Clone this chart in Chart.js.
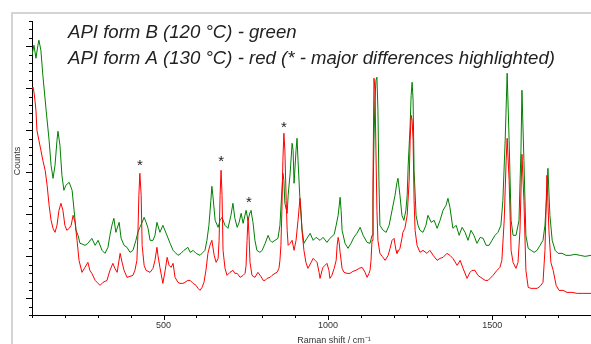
<!DOCTYPE html>
<html><head><meta charset="utf-8">
<script src="https://cdn.jsdelivr.net/npm/chart.js@4.4.1/dist/chart.umd.min.js"></script>
<style>
html,body{margin:0;padding:0;background:#fff;overflow:hidden;width:591px;height:344px;}
#frame{position:absolute;left:11px;top:12px;width:620px;height:400px;border-top:2px solid #d4d4d4;border-left:2px solid #d4d4d4;}
#wrap{position:absolute;left:0;top:0;width:591px;height:344px;}
</style></head>
<body>
<div id="frame"></div>
<div id="wrap"><canvas id="c"></canvas></div>
<script>
const titleLines = ['API form B (120 \u00B0C) - green', 'API form A (130 \u00B0C) - red (* - major differences highlighted)'];
const xTitle = 'Raman shift / cm\u207B\u00B9';
const yTitle = 'Counts';
const xTickLabels = [500, 1000, 1500];

const greenWavenumber = [
 100,106,112,118,121,127,133,143,152,158,
 164,170,176,179,185,191,197,203,213,222,
 228,234,240,246,255,261,270,282,292,301,
 313,322,331,337,343,349,355,365,371,380,
 389,398,407,416,422,428,435,441,447,453,
 459,468,474,480,489,498,508,520,529,535,
 544,553,562,574,581,590,599,611,620,626,
 632,638,644,647,650,657,666,672,678,687,
 696,705,711,717,724,730,736,742,751,757,
 763,766,772,778,784,793,800,809,818,824,
 830,839,848,854,860,863,866,869,876,879,
 885,891,894,897,903,906,909,915,921,927,
 936,946,955,964,976,985,997,1006,1019,1025,
 1031,1037,1040,1043,1052,1061,1070,1079,1088,1098,
 1107,1119,1128,1134,1137,1140,1143,1146,1149,1152,
 1155,1158,1168,1177,1186,1195,1204,1210,1213,1219,
 1225,1231,1237,1241,1244,1250,1253,1256,1259,1262,
 1268,1274,1280,1289,1298,1304,1314,1323,1332,1341,
 1350,1359,1365,1371,1380,1390,1399,1408,1417,1426,
 1435,1444,1453,1463,1472,1481,1490,1499,1508,1517,
 1526,1532,1539,1545,1551,1557,1563,1572,1581,1587,
 1590,1596,1602,1609,1618,1627,1636,1645,1654,1660,
 1666,1669,1675,1682,1691,1700,1712,1724,1736,1751,
 1767,1782,1800];
const greenCounts = [
 243,253,240,253,258,248,223,188,158,133,
 120,133,158,167,153,123,108,113,116,108,
 88,68,63,55,54,53,55,60,53,58,
 48,45,51,63,73,80,66,76,60,53,
 51,46,48,58,66,71,76,81,76,70,
 58,58,63,76,66,73,65,55,48,46,
 43,45,48,51,46,48,45,43,46,48,
 58,73,98,112,103,78,71,78,81,73,
 70,83,95,80,71,76,85,75,88,78,
 86,88,76,58,48,46,48,55,63,58,
 56,58,60,73,108,125,118,95,85,103,
 125,155,148,115,148,160,138,98,70,55,
 60,65,58,61,58,61,56,60,64,73,
 83,101,88,68,55,50,55,61,65,71,
 63,56,55,63,98,158,198,218,221,188,
 118,73,68,66,73,88,103,116,120,103,
 83,78,88,103,133,173,203,216,198,128,
 83,73,68,66,73,83,76,78,70,78,
 88,93,100,91,70,73,63,71,66,58,
 68,63,55,61,60,53,53,58,63,66,
 73,98,158,225,158,78,63,63,78,148,
 208,138,63,50,48,46,48,53,58,73,
 108,130,83,58,48,45,45,43,43,44,
 43,42,43];

const redWavenumber = [
 100,103,106,109,112,115,121,127,133,140,
 146,152,158,164,170,176,182,188,194,200,
 206,213,219,225,231,237,243,252,261,270,
 276,282,292,298,307,316,328,337,346,352,
 359,368,374,380,389,398,407,413,419,422,
 425,428,432,435,441,447,459,468,474,480,
 483,489,498,505,511,517,523,529,535,544,
 550,559,565,574,581,590,599,605,611,617,
 623,629,635,641,647,654,660,666,669,672,
 675,678,681,687,693,702,711,717,724,733,
 742,748,751,754,757,760,763,769,778,787,
 796,803,809,815,824,830,839,845,851,854,
 857,860,863,866,869,873,876,879,885,891,
 897,903,909,915,918,921,927,933,939,949,
 955,961,967,973,976,982,985,991,997,1003,
 1006,1012,1019,1025,1028,1031,1034,1037,1043,1049,
 1058,1067,1076,1085,1095,1104,1113,1119,1125,1128,
 1131,1134,1137,1140,1143,1146,1149,1152,1158,1165,
 1174,1183,1189,1195,1201,1207,1210,1219,1225,1228,
 1234,1241,1247,1250,1253,1256,1259,1262,1265,1271,
 1280,1289,1301,1310,1320,1332,1341,1350,1362,1371,
 1380,1393,1402,1411,1423,1432,1438,1447,1456,1469,
 1478,1487,1493,1502,1514,1523,1529,1536,1542,1545,
 1551,1557,1563,1572,1578,1584,1590,1596,1602,1609,
 1618,1627,1636,1645,1654,1660,1666,1672,1678,1685,
 1694,1703,1715,1727,1742,1758,1773,1788,1800];
const redCounts = [
 210,211,206,198,188,168,158,148,138,128,
 113,93,78,70,66,73,88,95,88,73,
 68,70,73,83,76,58,38,26,31,36,
 28,25,18,16,13,16,18,28,35,30,
 26,45,36,28,21,22,23,28,38,63,
 103,125,103,53,33,28,26,30,38,51,
 43,31,15,28,41,33,31,35,21,16,
 15,15,16,18,18,15,13,10,8,11,
 16,28,45,53,58,43,36,40,58,103,
 128,103,48,30,23,26,28,25,25,21,
 23,25,33,58,81,63,36,23,21,26,
 22,18,18,20,21,23,25,26,30,38,
 53,88,138,165,148,98,68,53,55,58,
 48,58,78,100,88,68,48,36,30,36,
 40,38,36,26,20,28,31,33,35,28,
 20,23,30,38,53,61,56,46,30,26,
 25,25,27,28,30,31,26,21,25,28,
 38,58,118,220,208,148,88,58,45,42,
 38,43,50,58,60,48,45,50,60,66,
 70,83,118,158,183,178,158,98,68,53,
 46,48,45,48,43,38,40,41,45,43,
 40,33,38,30,20,26,28,28,23,20,
 18,18,20,23,28,31,38,78,138,160,
 118,48,36,30,36,68,144,98,28,11,
 10,10,10,12,16,48,123,68,36,28,
 13,8,8,6,6,5,5,5,5];

// asterisks marking the major differences
const starWavenumber = [428, 675, 760, 866];
const starCounts = [137, 141, 100, 175];

const X_MIN = 100, X_MAX = 1800, X_MINOR = 100, X_MAJOR = 500;
const Y_MIN = -16.8, Y_MAX = 277.2, Y_MINOR = 8.4, Y_MAJOR = 42;
const FONT = '"Liberation Sans", Arial, Helvetica, sans-serif';

const toPoints = (xs, ys) => xs.map((v, i) => ({x: v, y: ys[i]}));

const decorPlugin = {
  id: 'decor',
  afterDraw(chart) {
    const {ctx, scales: {x, y}} = chart;
    ctx.save();
    ctx.strokeStyle = '#000';
    ctx.lineWidth = 1;
    ctx.beginPath();
    const bottom = Math.round(y.getPixelForValue(Y_MIN));
    for (let k = Math.round(X_MIN / X_MINOR); k * X_MINOR <= X_MAX; k++) {
      const v = k * X_MINOR;
      const px = Math.round(x.getPixelForValue(v)) + 0.5;
      const len = (v % X_MAJOR === 0) ? 5 : 3;
      ctx.moveTo(px, bottom);
      ctx.lineTo(px, bottom + len);
    }
    const left = Math.round(x.getPixelForValue(X_MIN));
    for (let k = Math.ceil(Y_MIN / Y_MINOR - 1e-6); k * Y_MINOR <= Y_MAX + 1e-6; k++) {
      const v = k * Y_MINOR;
      const py = Math.round(y.getPixelForValue(v)) + 0.5;
      const len = (k % 5 === 0) ? 6 : 3;
      ctx.moveTo(left, py);
      ctx.lineTo(left - len, py);
    }
    ctx.stroke();

    ctx.fillStyle = '#222';
    ctx.font = '15px ' + FONT;
    ctx.textAlign = 'center';
    ctx.textBaseline = 'alphabetic';
    starWavenumber.forEach((w, i) => {
      ctx.fillText('*', x.getPixelForValue(w), y.getPixelForValue(starCounts[i]) + 9);
    });

    ctx.fillStyle = '#222';
    ctx.font = 'italic 18.6px ' + FONT;
    ctx.textAlign = 'left';
    ctx.fillText(titleLines[0], 68, 38);
    ctx.fillText(titleLines[1], 68, 63.5);

    ctx.fillStyle = '#333';
    ctx.font = '9px ' + FONT;
    ctx.textAlign = 'center';
    ctx.textBaseline = 'middle';
    ctx.fillText(xTitle, 334, 341);
    ctx.save();
    ctx.translate(18, 161);
    ctx.rotate(-Math.PI / 2);
    ctx.fillText(yTitle, 0, 0);
    ctx.restore();
    ctx.restore();
  }
};

new Chart(document.getElementById('c'), {
  type: 'line',
  data: {
    datasets: [
      {label: 'API form A (130 \u00B0C)', data: toPoints(redWavenumber, redCounts), borderColor: 'rgb(255,0,0)', borderWidth: 1, pointRadius: 0, pointHoverRadius: 0, tension: 0, fill: false},
      {label: 'API form B (120 \u00B0C)', data: toPoints(greenWavenumber, greenCounts), borderColor: 'rgb(0,128,0)', borderWidth: 1, pointRadius: 0, pointHoverRadius: 0, tension: 0, fill: false}
    ]
  },
  options: {
    responsive: true,
    maintainAspectRatio: false,
    animation: false,
    parsing: false,
    layout: {autoPadding: false, padding: {left: 32, top: 21, right: 0, bottom: 8}},
    plugins: {legend: {display: false}, tooltip: {enabled: false}, title: {display: false}},
    scales: {
      x: {
        type: 'linear', min: X_MIN, max: X_MAX, position: 'bottom',
        grid: {display: false, drawTicks: false, tickLength: 0},
        border: {display: true, color: '#000', width: 1},
        afterBuildTicks: s => { s.ticks = xTickLabels.map(v => ({value: v})); },
        ticks: {autoSkip: false, maxRotation: 0, padding: 5, color: '#333', font: {family: FONT, size: 9}, callback: v => String(v)}
      },
      y: {
        type: 'linear', min: Y_MIN, max: Y_MAX,
        grid: {display: false, drawTicks: false, tickLength: 0},
        border: {display: true, color: '#000', width: 1},
        ticks: {display: false}
      }
    }
  },
  plugins: [decorPlugin]
});
</script>
</body></html>
